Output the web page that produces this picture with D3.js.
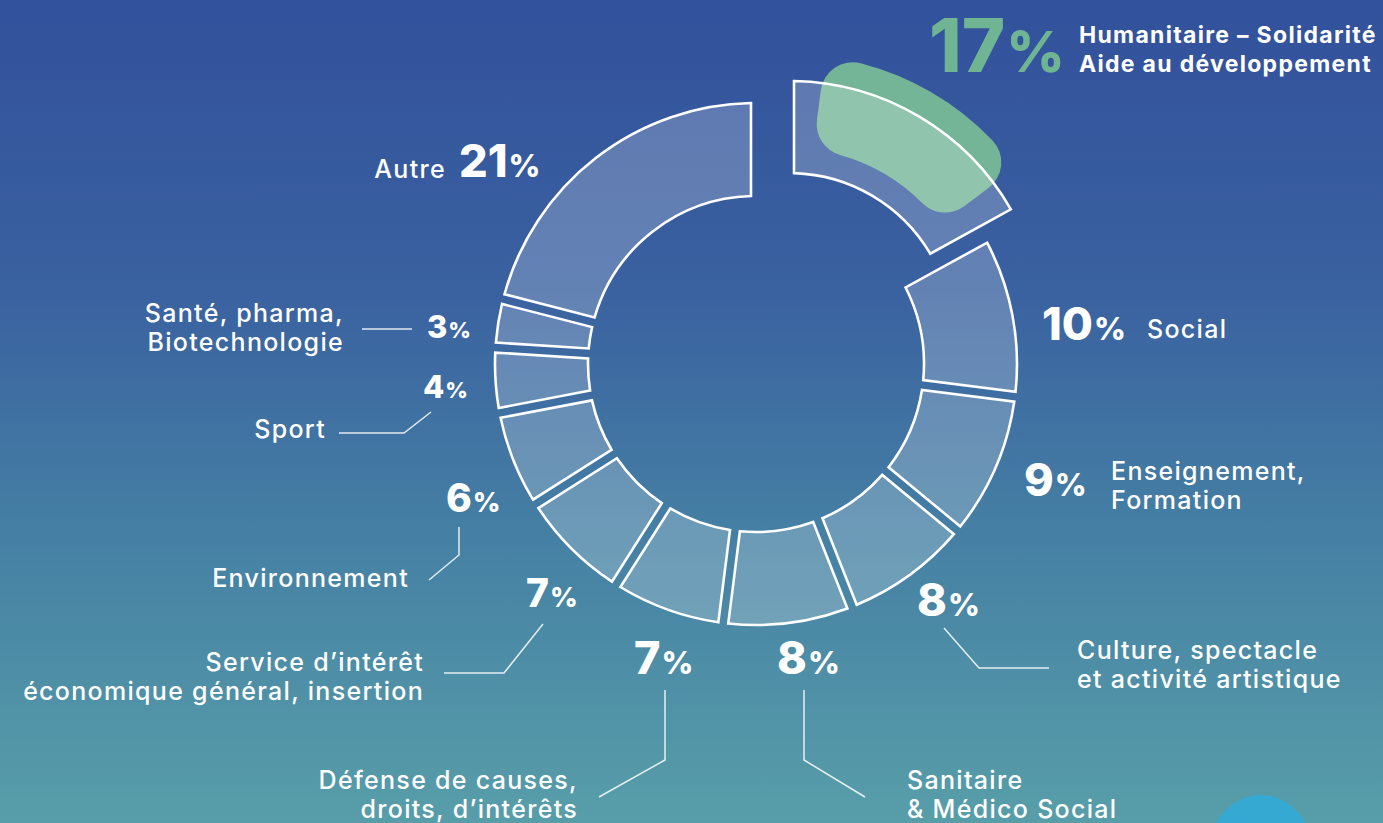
<!DOCTYPE html>
<html>
<head>
<meta charset="utf-8">
<script src="https://cdn.jsdelivr.net/npm/d3@7"></script>
<style>
  html, body { margin: 0; padding: 0; overflow: hidden; background: #3a5f9f; }
  svg { display: block; }
</style>
</head>
<body>
<svg id="chart" width="1383" height="823"></svg>
<script>
// ---- data -------------------------------------------------------------
const categories = [
  "Humanitaire – Solidarité|Aide au développement",
  "Social",
  "Enseignement,|Formation",
  "Culture, spectacle|et activité artistique",
  "Sanitaire|& Médico Social",
  "Défense de causes,|droits, d’intérêts",
  "Service d’intérêt|économique général, insertion",
  "Environnement",
  "Sport",
  "Santé, pharma,|Biotechnologie",
  "Autre"
];
const shares = [17, 10, 9, 8, 8, 7, 7, 6, 4, 3, 21];
const highlighted = 0; // the slice pulled out of the ring

// ---- layout -----------------------------------------------------------
const W = 1383, H = 823;
const cx = 756, cy = 364;
const outerR = 261, innerR = 168, gap = 10;
const explode = { dx: 33, dy: -27, outer: 256, inner: 164 };

// label placement relative to the ring centre:
// pct = value text, lab = category text, anchor of category text, leader polyline
const labelLayout = [
  { pct: [173, -292], size: "hero", lab: [323, -321], anchor: "start", bold: true, line: null },
  { pct: [286, -24], size: "big", lab: [391, -26], anchor: "start", line: null },
  { pct: [268, 132], size: "big", lab: [355, 116], anchor: "start", line: null },
  { pct: [161, 252], size: "big", lab: [321, 295], anchor: "start", line: [[188, 264], [223, 304], [293, 304]] },
  { pct: [21, 310], size: "big", lab: [151, 425], anchor: "start", line: [[48, 326], [48, 396], [109, 433]] },
  { pct: [-122, 310], size: "big", lab: [-178, 425], anchor: "end", line: [[-91, 326], [-91, 396], [-157, 433]] },
  { pct: [-230, 243], size: "mid", lab: [-332, 307], anchor: "end", line: [[-213, 260], [-252, 309], [-312, 309]] },
  { pct: [-310, 148], size: "mid", lab: [-347, 223], anchor: "end", line: [[-297, 163], [-297, 191], [-327, 216]] },
  { pct: [-333, 34], size: "small", lab: [-430, 74], anchor: "end", line: [[-325, 48], [-352, 69], [-417, 69]] },
  { pct: [-329, -26], size: "small", lab: [-412, -42], anchor: "end", line: [[-394, -35], [-344, -35]] },
  { pct: [-297, -187], size: "big", lab: [-310, -186], anchor: "end", line: null }
];
const pctSizes = {
  hero: [74, 57],
  big: [45, 31],
  mid: [39, 27],
  small: [31, 22]
};

const svg = d3.select("#chart");

// ---- background -------------------------------------------------------
const defs = svg.append("defs");
const grad = defs.append("linearGradient")
  .attr("id", "bg").attr("x1", 0).attr("y1", 0).attr("x2", 0).attr("y2", 1);
[[0, "#32519c"], [0.35, "#3a61a0"], [0.65, "#4580a4"], [1, "#589ea9"]]
  .forEach(([o, c]) => grad.append("stop").attr("offset", o).attr("stop-color", c));
svg.append("rect").attr("width", W).attr("height", H).attr("fill", "url(#bg)");

// decorative round shape in the lower right corner
svg.append("ellipse")
  .attr("cx", 1261).attr("cy", 860).attr("rx", 55).attr("ry", 65)
  .attr("fill", "#36a9d3");

// ---- ring -------------------------------------------------------------
const pie = d3.pie().sort(null).value(d => d);
const slices = pie(shares);

const arc = d3.arc()
  .innerRadius(innerR).outerRadius(outerR)
  .padRadius(outerR).padAngle(gap / outerR);

const arcOut = d3.arc()
  .innerRadius(explode.inner).outerRadius(explode.outer)
  .padRadius(outerR).padAngle(gap / outerR);

const ring = svg.append("g").attr("transform", `translate(${cx},${cy})`);

// green highlight behind the pulled-out slice
const hs = slices[highlighted];
const span = hs.endAngle - hs.startAngle;
ring.append("path")
  .attr("transform", `translate(${explode.dx},${explode.dy})`)
  .attr("d", d3.arc()
    .innerRadius(189).outerRadius(283).cornerRadius(32)
    ({ startAngle: hs.startAngle + span * 0.12, endAngle: hs.startAngle + span * 0.87 }))
  .attr("fill", "#73b596");

ring.selectAll("path.slice")
  .data(slices)
  .join("path")
  .attr("class", "slice")
  .attr("transform", (d, i) => i === highlighted ? `translate(${explode.dx},${explode.dy})` : null)
  .attr("d", (d, i) => i === highlighted ? arcOut(d) : arc(d))
  .attr("fill", "rgba(255,255,255,0.21)")
  .attr("stroke", "#ffffff")
  .attr("stroke-width", 2.6)
  .attr("stroke-linejoin", "miter");

// ---- labels -----------------------------------------------------------
const labels = svg.append("g").attr("transform", `translate(${cx},${cy})`);

labelLayout.forEach((L, i) => {
  // leader line
  if (L.line) {
    labels.append("polyline")
      .attr("points", L.line.map(p => p.join(",")).join(" "))
      .attr("fill", "none")
      .attr("stroke", "rgba(255,255,255,0.85)")
      .attr("stroke-width", 1.5);
  }
  // value
  const [big, small] = pctSizes[L.size];
  const t = labels.append("text")
    .attr("x", L.pct[0]).attr("y", L.pct[1])
    .attr("font-family", "Inter, 'Open Sans', sans-serif")
    .attr("font-weight", 800)
    .attr("fill", i === highlighted ? "#6fb493" : "#ffffff");
  t.append("tspan").attr("font-size", big).text(shares[i]);
  t.append("tspan").attr("font-size", small).attr("dx", 1).text("%");

  // category name
  const lines = categories[i].split("|");
  const ct = labels.append("text")
    .attr("x", L.lab[0]).attr("y", L.lab[1])
    .attr("text-anchor", L.anchor)
    .attr("font-family", "Inter, 'Open Sans', sans-serif")
    .attr("font-weight", L.bold ? 700 : 500)
    .attr("font-size", L.bold ? 23 : 25)
    .attr("letter-spacing", 1.3)
    .attr("fill", "#ffffff");
  lines.forEach((ln, k) => {
    ct.append("tspan").attr("x", L.lab[0]).attr("dy", k === 0 ? 0 : 29).text(ln);
  });
});
</script>
</body>
</html>
